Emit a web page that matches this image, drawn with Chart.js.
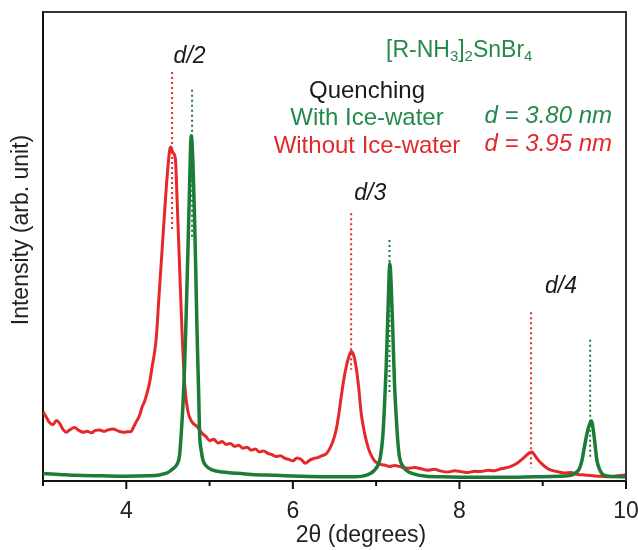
<!DOCTYPE html>
<html>
<head>
<meta charset="utf-8">
<title>XRD quenching</title>
<script src="https://cdn.jsdelivr.net/npm/chart.js@4.4.1/dist/chart.umd.min.js"></script>
<style>
  body { margin: 0; background: #fff; }
  #wrap { width: 638px; height: 550px; }
</style>
</head>
<body>
<div id="wrap"><canvas id="xrd" width="638" height="550"></canvas></div>
<script>
// without ice-water (red)
var redTheta = [3.00,3.04,3.08,3.12,3.16,3.20,3.24,3.28,3.32,3.38,3.43,3.48,3.53,3.58,3.63,3.68,3.73,3.78,3.84,3.90,
  3.96,4.02,4.06,4.09,4.12,4.16,4.19,4.22,4.25,4.28,4.31,4.34,4.36,4.39,4.43,4.47,4.50,4.53,4.56,4.59,
  4.61,4.64,4.67,4.70,4.74,4.79,4.85,4.91,4.96,5.00,5.05,5.10,5.15,5.20,5.25,5.30,5.35,5.40,5.45,5.50,
  5.55,5.60,5.65,5.70,5.75,5.80,5.85,5.90,5.95,6.00,6.05,6.10,6.15,6.20,6.25,6.30,6.35,6.40,6.44,6.48,
  6.52,6.55,6.58,6.61,6.64,6.67,6.70,6.73,6.76,6.79,6.82,6.85,6.88,6.91,6.94,6.98,7.04,7.10,7.16,7.22,
  7.30,7.38,7.46,7.54,7.62,7.70,7.78,7.86,7.94,8.02,8.10,8.18,8.26,8.34,8.42,8.50,8.58,8.64,8.70,8.75,
  8.80,8.84,8.87,8.90,8.94,8.98,9.04,9.10,9.18,9.26,9.34,9.42,9.50,9.60,9.70,9.80,9.90,10.00];
var redIntensity = [14.8,13.6,12.4,12.0,12.9,12.3,11.0,10.4,10.9,11.4,10.8,10.4,10.6,10.3,10.8,10.9,10.6,10.9,11.1,10.7,
  10.4,10.5,10.6,11.6,12.6,14.0,15.8,17.0,18.8,21.0,24.3,27.5,30.5,38.6,49.3,60.0,67.0,71.2,70.0,68.6,
  60.0,45.6,31.5,20.9,14.8,12.6,11.6,10.2,9.4,8.6,8.9,8.1,8.4,7.8,8.0,7.4,7.6,7.0,7.2,6.6,
  6.8,6.2,6.4,5.9,5.6,5.2,5.4,4.9,4.6,4.3,4.9,4.6,3.8,4.4,4.8,5.0,5.4,5.8,6.8,8.4,
  10.9,14.0,17.9,21.5,24.3,26.4,27.6,26.8,24.2,20.0,14.5,11.2,8.7,6.8,5.5,4.3,3.6,3.4,3.1,3.3,
  3.0,2.7,2.9,2.6,2.3,2.5,2.1,1.9,2.2,2.0,1.8,2.1,2.0,2.3,2.2,2.6,2.9,3.3,3.9,4.6,
  5.4,6.0,6.2,5.6,4.6,3.8,2.9,2.3,2.0,1.7,1.8,1.4,1.3,1.1,1.0,0.9,1.1,1.3];

// with ice-water (green)
var greenTheta = [3.00,3.20,3.40,3.70,4.00,4.25,4.40,4.50,4.56,4.61,4.64,4.66,4.68,4.70,4.72,4.74,4.76,4.78,4.80,4.82,
  4.84,4.85,4.87,4.88,4.90,4.92,4.96,5.04,5.15,5.28,5.50,5.80,6.10,6.40,6.70,6.85,6.93,6.98,7.02,7.05,
  7.08,7.10,7.12,7.14,7.165,7.18,7.20,7.22,7.24,7.26,7.28,7.32,7.36,7.45,7.60,7.80,8.10,8.50,8.90,9.20,
  9.34,9.40,9.44,9.47,9.50,9.53,9.56,9.585,9.61,9.63,9.65,9.68,9.72,9.80,10.00];
var greenIntensity = [1.6,1.4,1.2,1.1,1.0,1.1,1.3,1.8,2.6,3.6,5.5,10.2,16.0,24.3,36.0,49.0,63.0,73.6,68.0,56.0,
  40.0,31.5,18.0,10.2,6.5,4.5,3.2,2.3,1.9,1.7,1.4,1.2,1.0,0.9,0.9,1.1,1.6,2.3,3.3,5.0,
  9.5,16.0,24.0,35.0,46.3,42.0,32.0,21.0,14.0,8.5,5.1,3.2,2.3,1.5,1.0,0.9,0.8,0.8,0.9,1.0,
  1.2,1.8,2.6,4.3,7.2,10.0,12.0,12.8,10.5,7.5,4.5,2.6,1.4,1.0,0.9];

// dotted peak markers
var refTheta  = [4.55, 4.79, 6.70, 7.16, 8.86, 9.57];
var refTop    = [87.2, 83.4, 57.1, 51.4, 36.0, 30.1];
var refBottom = [53.5, 51.4, 23.7, 18.3, 2.8, 4.9];
var refSeries = ['red', 'green', 'red', 'green', 'red', 'green'];

// peak order labels: text, 2θ position of label centre
var orderLabels = ['d/2', 'd/3', 'd/4'];
var orderTheta  = [4.76, 6.93, 9.22];

var xTicks = [3, 4, 5, 6, 7, 8, 9, 10];

var RED = '#e5282a';
var GREEN = '#1b7b37';
var TXT_GREEN = '#26894c';
var TXT_RED = '#e2292d';

function toPoints(xs, ys){
  var pts = [];
  for (var i = 0; i < xs.length; i++) pts.push({x: xs[i], y: ys[i]});
  return pts;
}

var datasets = [];
for (var i = 0; i < refTheta.length; i++){
  datasets.push({
    data: [{x: refTheta[i], y: refTop[i]}, {x: refTheta[i], y: refBottom[i]}],
    borderColor: refSeries[i] === 'red' ? RED : GREEN,
    borderWidth: 2,
    borderDash: [2, 3],
    pointRadius: 0,
    order: 5
  });
}
datasets.push({
  label: 'Without Ice-water',
  data: toPoints(redTheta, redIntensity),
  borderColor: RED,
  borderWidth: 3,
  pointRadius: 0,
  cubicInterpolationMode: 'monotone',
  order: 2
});
datasets.push({
  label: 'With Ice-water',
  data: toPoints(greenTheta, greenIntensity),
  borderColor: GREEN,
  borderWidth: 3.5,
  pointRadius: 0,
  cubicInterpolationMode: 'monotone',
  order: 1
});

var FONT = "'Liberation Sans', Arial, sans-serif";

// frame + ticks (major longer than minor)
var framePlugin = {
  id: 'frame',
  afterDraw: function(chart){
    var ctx = chart.ctx, a = chart.chartArea, xs = chart.scales.x;
    ctx.save();
    ctx.strokeStyle = '#333';
    ctx.lineWidth = 2;
    ctx.beginPath();
    ctx.moveTo(a.left, a.top); ctx.lineTo(a.right, a.top); ctx.lineTo(a.right, a.bottom);
    ctx.stroke();
    ctx.strokeStyle = '#111';
    xTicks.forEach(function(v){
      var px = xs.getPixelForValue(v);
      var len = v % 2 === 0 ? 8 : 5;
      ctx.beginPath(); ctx.moveTo(px, a.bottom); ctx.lineTo(px, a.bottom + len); ctx.stroke();
    });
    ctx.restore();
  }
};

function subText(ctx, parts, x, y, size, subSize){
  var cx = x;
  parts.forEach(function(p){
    ctx.font = (p[1] ? subSize : size) + 'px ' + FONT;
    ctx.fillText(p[0], cx, p[1] ? y + 4 : y);
    cx += ctx.measureText(p[0]).width;
  });
}

var textPlugin = {
  id: 'notes',
  afterDraw: function(chart){
    var ctx = chart.ctx, xs = chart.scales.x;
    ctx.save();
    ctx.textBaseline = 'alphabetic';
    ctx.fillStyle = '#1a1a1a';
    ctx.font = 'italic 23px ' + FONT;
    ctx.textAlign = 'center';
    var base = [63, 200, 293];
    for (var i = 0; i < orderLabels.length; i++){
      ctx.fillText(orderLabels[i], xs.getPixelForValue(orderTheta[i]), base[i]);
    }

    ctx.font = '24px ' + FONT;
    ctx.fillText('Quenching', 367, 98);
    ctx.fillStyle = TXT_GREEN;
    ctx.fillText('With Ice-water', 367, 125);
    ctx.fillStyle = TXT_RED;
    ctx.fillText('Without Ice-water', 367, 153);

    ctx.textAlign = 'right';
    ctx.font = 'italic 24px ' + FONT;
    ctx.fillStyle = TXT_GREEN;
    ctx.fillText('d = 3.80 nm', 612, 123);
    ctx.fillStyle = TXT_RED;
    ctx.fillText('d = 3.95 nm', 612, 151);

    ctx.textAlign = 'left';
    ctx.fillStyle = TXT_GREEN;
    subText(ctx, [['[R-NH', false], ['3', true], [']', false], ['2', true], ['SnBr', false], ['4', true]], 386, 57, 23, 15);

    // axis titles
    ctx.fillStyle = '#222';
    ctx.font = '23px ' + FONT;
    ctx.textAlign = 'center';
    ctx.fillText('2θ (degrees)', 361, 542);
    ctx.save();
    ctx.translate(28, 230);
    ctx.rotate(-Math.PI / 2);
    ctx.fillText('Intensity (arb. unit)', 0, 0);
    ctx.restore();
    ctx.restore();
  }
};

new Chart(document.getElementById('xrd'), {
  type: 'line',
  data: { datasets: datasets },
  options: {
    responsive: false,
    animation: false,
    layout: { padding: { top: 12, right: 0, left: 0, bottom: 0 } },
    plugins: { legend: { display: false }, tooltip: { enabled: false } },
    scales: {
      x: {
        type: 'linear',
        min: 3, max: 10,
        grid: { display: false },
        border: { display: true, color: '#111', width: 2 },
        ticks: {
          stepSize: 1,
          padding: 9,
          color: '#222',
          font: { family: FONT, size: 23 },
          maxRotation: 0,
          callback: function(v){ return (v % 2 === 0) ? v : ''; }
        },
        afterFit: function(s){ s.height = 69; s.paddingRight = 12; }
      },
      y: {
        min: 0, max: 100,
        grid: { display: false },
        border: { display: true, color: '#111', width: 2 },
        ticks: { display: false },
        afterFit: function(s){ s.width = 43; }
      }
    }
  },
  plugins: [framePlugin, textPlugin]
});
</script>
</body>
</html>
